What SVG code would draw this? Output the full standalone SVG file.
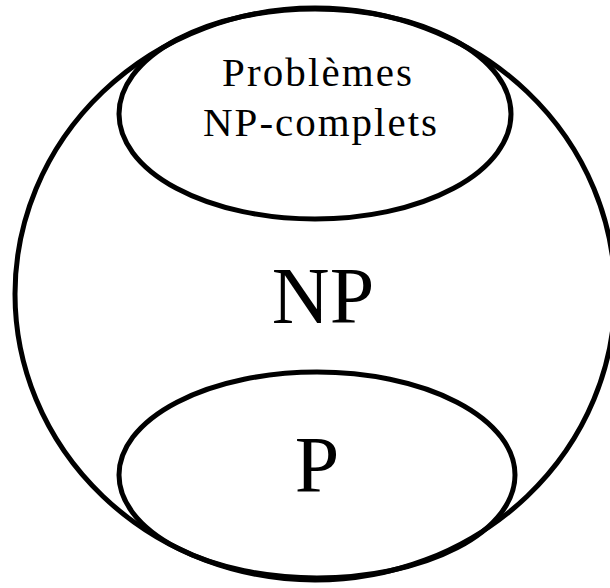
<svg xmlns="http://www.w3.org/2000/svg" width="610" height="588" viewBox="0 0 610 588">
<style>
.set{fill:none;stroke:#000;stroke-width:5}
.lbl{font-family:"Liberation Serif","Times New Roman",serif;fill:#000;text-anchor:middle}
</style>
<rect width="610" height="588" fill="#fff"/>
<g id="np">
<ellipse class="set" cx="315" cy="294" rx="300" ry="286"/>
<text class="lbl" x="323" y="323" font-size="80">NP</text>
</g>
<g id="npc">
<ellipse class="set" cx="315" cy="114" rx="196" ry="105"/>
<text class="lbl" x="317" y="86" font-size="41" textLength="190" lengthAdjust="spacing">Problèmes</text>
<text class="lbl" x="320" y="136" font-size="41" textLength="234" lengthAdjust="spacing">NP-complets</text>
</g>
<g id="p">
<ellipse class="set" cx="317" cy="475" rx="198" ry="103"/>
<text class="lbl" x="317" y="492" font-size="80">P</text>
</g>
<g id="connectors"></g>
</svg>
